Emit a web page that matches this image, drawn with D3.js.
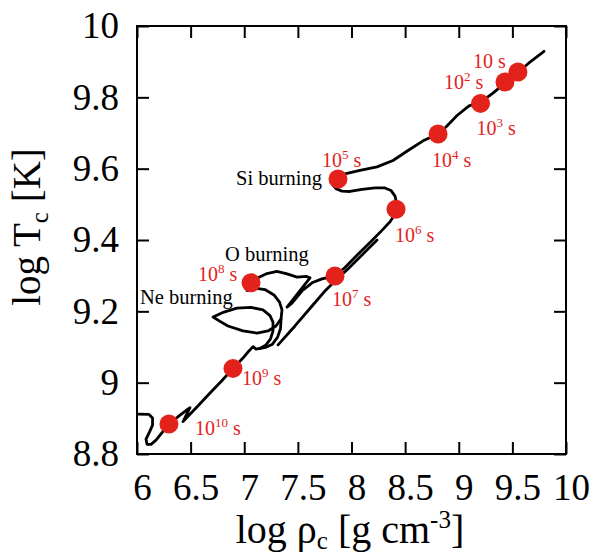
<!DOCTYPE html>
<html><head><meta charset="utf-8">
<script src="https://cdn.jsdelivr.net/npm/d3@7"></script>
<style>
body{margin:0;background:#fff}
svg{display:block}
text{font-family:"Liberation Serif","Times New Roman",serif}
</style>
</head><body>
<svg id="chart" width="595" height="554"></svg>
<script>
// ---- data ----
const xTicks = [6, 6.5, 7, 7.5, 8, 8.5, 9, 9.5, 10];
const xTickLabels = ["6", "6.5", "7", "7.5", "8", "8.5", "9", "9.5", "10"];
const yTicks = [8.8, 9, 9.2, 9.4, 9.6, 9.8, 10];
const yTickLabels = ["8.8", "9", "9.2", "9.4", "9.6", "9.8", "10"];

// evolutionary track pieces [log rho_c, log T_c]
const trackEarly = [[6.009,8.912],[6.112,8.911],[6.145,8.901],[6.145,8.881],[6.117,8.862],[6.084,8.842],[6.093,8.827],[6.131,8.827],[6.177,8.839],[6.298,8.884],[6.401,8.909],[6.494,8.930],[6.429,8.891],[6.550,8.929],[6.681,8.971],[6.793,9.006],[6.895,9.040],[6.988,9.069],[7.044,9.089],[7.082,9.101],[7.110,9.094],[7.147,9.096]];
const trackNeLoop = [[7.147,9.096],[7.203,9.106],[7.245,9.123],[7.268,9.145],[7.268,9.170],[7.240,9.188],[7.175,9.204],[7.063,9.211],[6.932,9.209],[6.811,9.198],[6.709,9.184],[6.774,9.172],[6.848,9.159],[6.988,9.145],[7.119,9.139],[7.222,9.145],[7.296,9.159],[7.343,9.179],[7.352,9.204],[7.329,9.226],[7.277,9.246],[7.193,9.261],[7.100,9.265],[7.026,9.258],[7.063,9.280]];
const trackNeTail = [[7.343,9.179],[7.338,9.151],[7.310,9.127],[7.263,9.108],[7.203,9.099],[7.147,9.096]];
const trackO = [[7.063,9.280],[7.128,9.294],[7.212,9.306],[7.305,9.312],[7.399,9.305],[7.492,9.296],[7.576,9.298],[7.613,9.294],[7.399,9.212],[7.445,9.223],[7.538,9.257],[7.632,9.280],[7.725,9.291],[7.800,9.296],[7.846,9.299]];
const trackShell = [[7.315,9.106],[7.473,9.159],[7.632,9.215],[7.762,9.260],[7.856,9.288],[7.967,9.319],[8.098,9.358],[8.238,9.400]];
const trackLate = [[7.846,9.299],[7.939,9.323],[8.051,9.357],[8.172,9.393],[8.284,9.427],[8.359,9.451],[8.401,9.470],[8.415,9.486],[8.420,9.504],[8.406,9.523],[8.368,9.539],[8.312,9.546],[8.219,9.546],[8.098,9.542],[7.986,9.536],[7.911,9.537],[7.855,9.544],[7.828,9.554],[7.874,9.571],[7.948,9.586],[8.079,9.595],[8.238,9.605],[8.387,9.623],[8.527,9.651],[8.667,9.678],[8.807,9.697],[8.881,9.717],[8.984,9.749],[9.096,9.776],[9.207,9.787],[9.319,9.812],[9.431,9.840],[9.543,9.867],[9.664,9.899],[9.795,9.929]];

// time markers (time before collapse)
const dotRho = [9.552, 9.431, 9.203, 8.807, 7.874, 8.415, 7.846, 7.063, 6.895, 6.298];
const dotT   = [9.871, 9.843, 9.783, 9.697, 9.571, 9.486, 9.299, 9.280, 9.040, 8.884];
const dotExp = ["", "2", "3", "4", "5", "6", "7", "8", "9", "10"];

// burning-stage annotations
const stageNames = ["Si burning", "O burning", "Ne burning"];
const stageRho = [6.923, 6.821, 6.028];
const stageT = [9.554, 9.341, 9.220];

// ---- layout ----
const L = 137, R = 566, T = 26, B = 454;
const labelOffsets = [[-45,-4],[-61,7],[-4,31.5],[-6,33],[-16,-12],[-1,32.5],[-3,30],[-53,-2],[9,16.5],[26,11]];
const red = "#e3231b";

const svg = d3.select("#chart");
const x = d3.scaleLinear().domain([6, 10]).range([L, R]);
const y = d3.scaleLinear().domain([8.8, 10]).range([B, T]);

// axes
const gB = svg.append("g").attr("transform", `translate(0,${B})`)
  .call(d3.axisBottom(x).tickValues(xTicks).tickFormat((d,i)=>xTickLabels[i]).tickSizeInner(-12).tickSizeOuter(0).tickPadding(19.7));
const gL = svg.append("g").attr("transform", `translate(${L},0)`)
  .call(d3.axisLeft(y).tickValues(yTicks).tickFormat((d,i)=>yTickLabels[i]).tickSizeInner(-12).tickSizeOuter(0).tickPadding(18));
const gT = svg.append("g").attr("transform", `translate(0,${T})`)
  .call(d3.axisTop(x).tickValues(xTicks).tickFormat("").tickSizeInner(-12).tickSizeOuter(0));
const gR = svg.append("g").attr("transform", `translate(${R},0)`)
  .call(d3.axisRight(y).tickValues(yTicks).tickFormat("").tickSizeInner(-12).tickSizeOuter(0));
[gB, gL, gT, gR].forEach(g => {
  g.select(".domain").remove();
  g.selectAll(".tick line").attr("stroke", "#000").attr("stroke-width", 2);
  g.selectAll("text").attr("fill", "#000").style("font-size", "37px").style("font-family", '"Liberation Serif", serif');
});
gB.selectAll("text").attr("dx", 5);

svg.append("rect").attr("x", L).attr("y", T).attr("width", R - L).attr("height", B - T)
  .attr("fill", "none").attr("stroke", "#000").attr("stroke-width", 2);

// axis titles
const xt = svg.append("text").attr("x", 350).attr("y", 543).attr("text-anchor", "middle").style("font-size", "40px");
xt.append("tspan").text("log \u03c1");
xt.append("tspan").attr("dy", 6).style("font-size", "25px").text("c");
xt.append("tspan").attr("dy", -6).text(" [g cm");
xt.append("tspan").attr("dy", -15).style("font-size", "25px").text("-3");
xt.append("tspan").attr("dy", 15).text("]");

const yt = svg.append("text").attr("transform", "translate(40,227) rotate(-90)").attr("text-anchor", "middle").style("font-size", "39px");
yt.append("tspan").text("log T");
yt.append("tspan").attr("dy", 8).style("font-size", "25px").text("c");
yt.append("tspan").attr("dy", -8).text(" [K]");

// tracks
const line = d3.line().x(d => x(d[0])).y(d => y(d[1])).curve(d3.curveLinear);
[trackEarly, trackNeLoop, trackNeTail, trackO, trackShell, trackLate].forEach(seg => {
  svg.append("path").datum(seg).attr("d", line)
    .attr("fill", "none").attr("stroke", "#000").attr("stroke-width", 2.8)
    .attr("stroke-linejoin", "round").attr("stroke-linecap", "round");
});

// stage labels
stageNames.forEach((s, i) => {
  svg.append("text").attr("x", x(stageRho[i])).attr("y", y(stageT[i]))
    .style("font-size", "20.5px").attr("fill", "#000").text(s);
});

// dots
svg.selectAll("circle.dot").data(dotRho).enter().append("circle")
  .attr("class", "dot").attr("cx", d => x(d)).attr("cy", (d,i) => y(dotT[i]))
  .attr("r", 9.5).attr("fill", red);

// time labels
dotRho.forEach((d, i) => {
  const t = svg.append("text").attr("x", x(d) + labelOffsets[i][0]).attr("y", y(dotT[i]) + labelOffsets[i][1])
    .attr("fill", red).style("font-size", "20px");
  t.append("tspan").text("10");
  if (dotExp[i]) {
    t.append("tspan").attr("dy", -8).style("font-size", "13px").text(dotExp[i]);
    t.append("tspan").attr("dy", 8).text(" s");
  } else {
    t.append("tspan").text(" s");
  }
});
</script>
</body></html>
